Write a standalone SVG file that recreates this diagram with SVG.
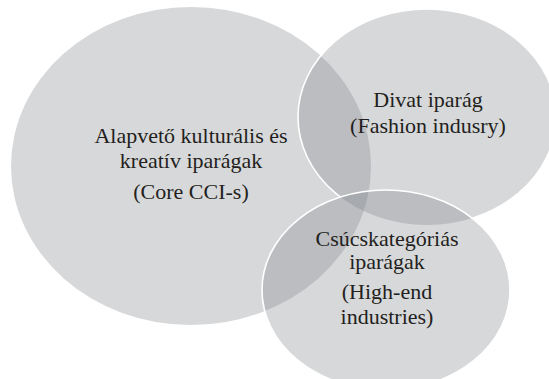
<svg xmlns="http://www.w3.org/2000/svg" width="549" height="379" viewBox="0 0 549 379">
<style>
.c{fill:#7b7e84;fill-opacity:0.3}
.e{fill:none;stroke:#ffffff;stroke-width:1.6}
text{font-family:"Liberation Serif","Times New Roman",serif;font-size:22px;fill:#231f20;text-anchor:middle}
</style>
<defs>
<mask id="m" maskUnits="userSpaceOnUse" x="0" y="0" width="549" height="379">
<rect x="0" y="0" width="549" height="379" fill="#fff"/>
<ellipse cx="386" cy="290" rx="124" ry="100" fill="#000"/>
</mask>
</defs>
<g id="core">
<ellipse class="c" cx="191" cy="166" rx="180" ry="159"/>
<text x="191" y="143">Alapvető kulturális és</text>
<text x="191" y="168">kreatív iparágak</text>
<text x="191" y="199">(Core CCI-s)</text>
</g>
<g id="fashion">
<ellipse class="c" cx="427" cy="117" rx="129" ry="108"/>
<ellipse class="e" cx="427" cy="117" rx="129" ry="108" mask="url(#m)"/>
<text x="428" y="107">Divat iparág</text>
<text x="428" y="133">(Fashion indusry)</text>
</g>
<g id="highend">
<ellipse class="c" cx="386" cy="290" rx="124" ry="100"/>
<ellipse class="e" cx="386" cy="290" rx="124" ry="100"/>
<text x="387" y="246">Csúcskategóriás</text>
<text x="387" y="269">iparágak</text>
<text x="387" y="299">(High-end</text>
<text x="387" y="324">industries)</text>
</g>
<g id="connectors"/>
</svg>
